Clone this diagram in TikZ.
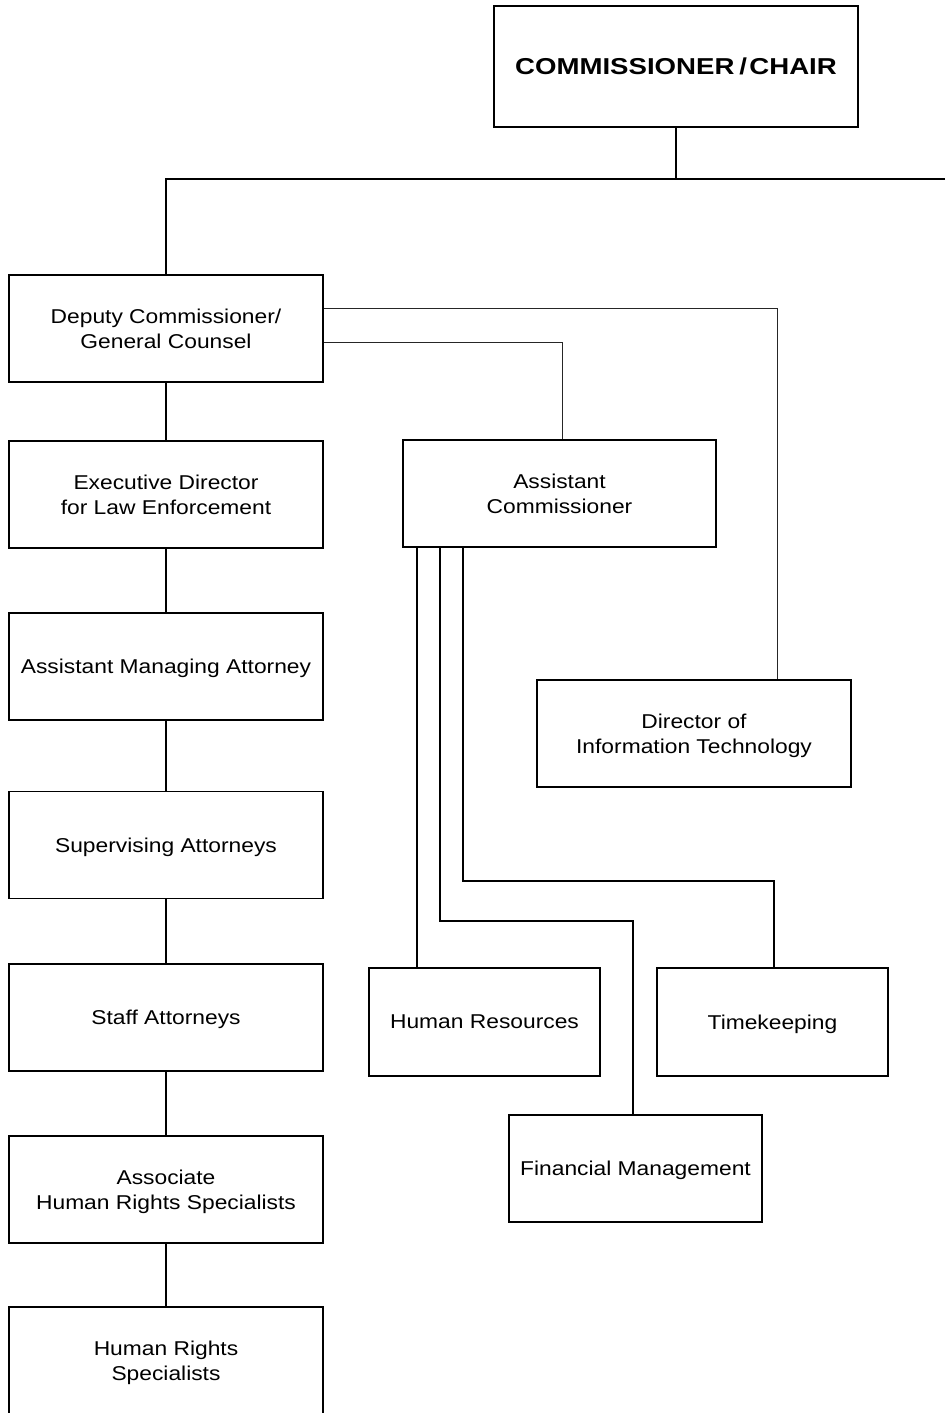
\documentclass[tikz,border=0pt]{standalone}
\usepackage{fontspec}
\setmainfont{Liberation Sans}[FakeStretch=1.14]
\newfontfamily\titlefont{Liberation Sans}[FakeStretch=1.2]
\begin{document}
\begin{tikzpicture}[x=1pt,y=-1pt,
  box/.style={draw, line width=1.8pt, fill=white, inner sep=0pt, align=center,
    text depth=0pt, font=\fontsize{20}{25}\selectfont},
  leftbox/.style={box, minimum width=314pt, minimum height=107pt},
  conn/.style={line width=1.6pt},
  thinconn/.style={line width=1pt, black!85}]
\useasboundingbox[fill=white] (0,0) rectangle (945,1413);

% top
\node[box, minimum width=364pt, minimum height=121pt,
  font=\titlefont\bfseries\fontsize{23}{27}\selectfont] (comm) at (676,66.5)
  {COMMISSIONER\hspace{0.22em}/\hspace{0.1em}CHAIR};

% left column
\node[leftbox] (dep)   at (166,328.5) {Deputy Commissioner/\\General Counsel};
\node[leftbox] (ed)    at (166,494.5) {Executive Director\\for Law Enforcement};
\node[leftbox] (ama)   at (166,666.5) {Assistant Managing Attorney};
\node[leftbox] (sa)    at (166,845)   {Supervising Attorneys};
\node[leftbox] (staff) at (166,1017.5) {Staff Attorneys};
\node[leftbox] (assoc) at (166,1189.5) {Associate\\Human Rights Specialists};
\node[leftbox, minimum height=108pt] (hrs) at (166,1361) {Human Rights\\Specialists};

% right side
\node[box, minimum width=313pt, minimum height=107pt] (ac)  at (559.5,493.5) {Assistant\\Commissioner};
\node[box, minimum width=314pt, minimum height=107pt] (dit) at (694,733.5) {Director of\\Information Technology};
\node[box, minimum width=231pt, minimum height=108pt] (hr)  at (484.5,1022) {Human Resources};
\node[box, minimum width=231pt, minimum height=108pt] (tk)  at (772.5,1022) {Timekeeping};
\node[box, minimum width=253pt, minimum height=107pt] (fm)  at (635.5,1168.5) {Financial Management};

% routing points
\coordinate (top)  at (676,179);
\coordinate (topL) at (166,179);
\coordinate (topR) at (945,179);
\coordinate (r1) at (777,308);
\coordinate (r2) at (562,342);
\coordinate (h1) at (417,760);
\coordinate (f1) at (440,921);
\coordinate (f2) at (633,921);
\coordinate (t1) at (463,881);
\coordinate (t2) at (774,881);

% connectors
\draw[conn] (comm.south) -- (top);
\draw[conn] (topR) -- (topL) -- (dep.north);
\draw[conn] (dep) -- (ed);
\draw[conn] (ed) -- (ama);
\draw[conn] (ama) -- (sa);
\draw[conn] (sa) -- (staff);
\draw[conn] (staff) -- (assoc);
\draw[conn] (assoc) -- (hrs);

\draw[thinconn] (dep.east |- r1) -- (r1) -- (r1 |- dit.north);
\draw[thinconn] (dep.east |- r2) -- (r2) -- (r2 |- ac.north);

\draw[conn] (ac.south -| h1) -- (hr.north -| h1);
\draw[conn] (ac.south -| f1) -- (f1) -- (f2) -- (fm.north -| f2);
\draw[conn] (ac.south -| t1) -- (t1) -- (t2) -- (tk.north -| t2);
\end{tikzpicture}
\end{document}
